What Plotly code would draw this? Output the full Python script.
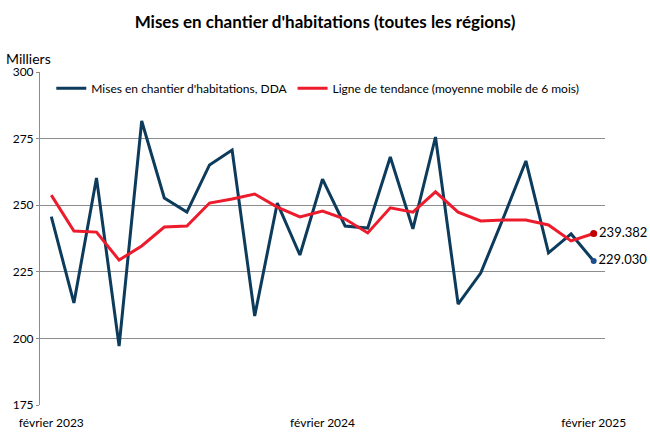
import plotly.graph_objects as go

months = ["2023-02", "2023-03", "2023-04", "2023-05", "2023-06", "2023-07", "2023-08",
          "2023-09", "2023-10", "2023-11", "2023-12", "2024-01", "2024-02", "2024-03",
          "2024-04", "2024-05", "2024-06", "2024-07", "2024-08", "2024-09", "2024-10",
          "2024-11", "2024-12", "2025-01", "2025-02"]

starts = [245.7, 213.3, 260.2, 197.1, 281.6, 252.7, 247.4, 265.1, 270.7, 208.4,
          250.8, 231.3, 259.8, 242.2, 241.4, 268.1, 241.1, 275.6, 212.9, 224.5,
          245.2, 266.6, 232.1, 239.2, 229.030]

trend = [253.8, 240.3, 239.9, 229.4, 234.7, 241.8, 242.2, 250.8, 252.3, 254.2,
         249.3, 245.6, 247.8, 244.8, 239.6, 249.0, 247.4, 255.0, 247.4, 244.1,
         244.4, 244.4, 242.6, 236.6, 239.382]

tick_vals = ["2023-02", "2024-02", "2025-02"]
tick_text = ["février 2023", "février 2024", "février 2025"]

name_starts = "Mises en chantier d'habitations, DDA"
name_trend = "Ligne de tendance (moyenne mobile de 6 mois)"

blue = "#0c3b5c"
red = "#ec1c2d"
font = "Lato"

fig = go.Figure()
fig.add_trace(go.Scatter(x=months, y=starts, mode="lines", name=name_starts,
                         line=dict(color=blue, width=3)))
fig.add_trace(go.Scatter(x=months, y=trend, mode="lines", name=name_trend,
                         line=dict(color=red, width=3)))
# end markers with labels
fig.add_trace(go.Scatter(x=[months[-1]], y=[trend[-1]], mode="markers+text",
                         marker=dict(color="#c00000", size=7),
                         text=[f"{trend[-1]:.3f}"], textposition="middle right",
                         textfont=dict(size=13, color="#000000", family=font),
                         showlegend=False, cliponaxis=False))
fig.add_trace(go.Scatter(x=[months[-1]], y=[starts[-1]], mode="markers+text",
                         marker=dict(color="#1f4e8c", size=6),
                         text=[f"{starts[-1]:.3f}"], textposition="middle right",
                         textfont=dict(size=13, color="#000000", family=font),
                         showlegend=False, cliponaxis=False))

fig.update_layout(
    width=650, height=440,
    margin=dict(l=40, r=45, t=72, b=35, autoexpand=False),
    paper_bgcolor="white", plot_bgcolor="white",
    font=dict(family=font, size=12, color="#000000"),
    title=dict(text="<b>Mises en chantier d'habitations (toutes les régions)</b>",
               x=0.5, xanchor="center", y=0.95, yanchor="middle",
               font=dict(size=17, family=font), automargin=False),
    legend=dict(orientation="h", x=0.02, y=0.995, xanchor="left", yanchor="top",
                bgcolor="rgba(0,0,0,0)", font=dict(size=12, family=font),
                itemwidth=30, tracegroupgap=0),
    showlegend=True,
)
fig.update_xaxes(type="category", categoryorder="array", categoryarray=months,
                 tickmode="array", tickvals=tick_vals, ticktext=tick_text,
                 showgrid=False, showline=False, ticks="", zeroline=False, automargin=False,
                 ticklabelstandoff=9,
                 tickfont=dict(size=12, family=font), range=[-0.5, len(months) - 0.5])
fig.update_yaxes(range=[175, 300], dtick=25, showgrid=True, gridcolor="#8c8c8c",
                 gridwidth=1, showline=True, linecolor="#8c8c8c", linewidth=1,
                 ticks="outside", ticklen=3, tickcolor="#8c8c8c", automargin=False,
                 tickfont=dict(size=12, family=font), zeroline=False)
fig.add_annotation(text="Milliers", xref="paper", yref="paper", x=-0.063, y=1.008,
                   xanchor="left", yanchor="bottom", showarrow=False,
                   font=dict(size=14, family=font))

fig.write_html("out.html", config={"displayModeBar": False},
               post_script="document.body.style.margin='0';")
